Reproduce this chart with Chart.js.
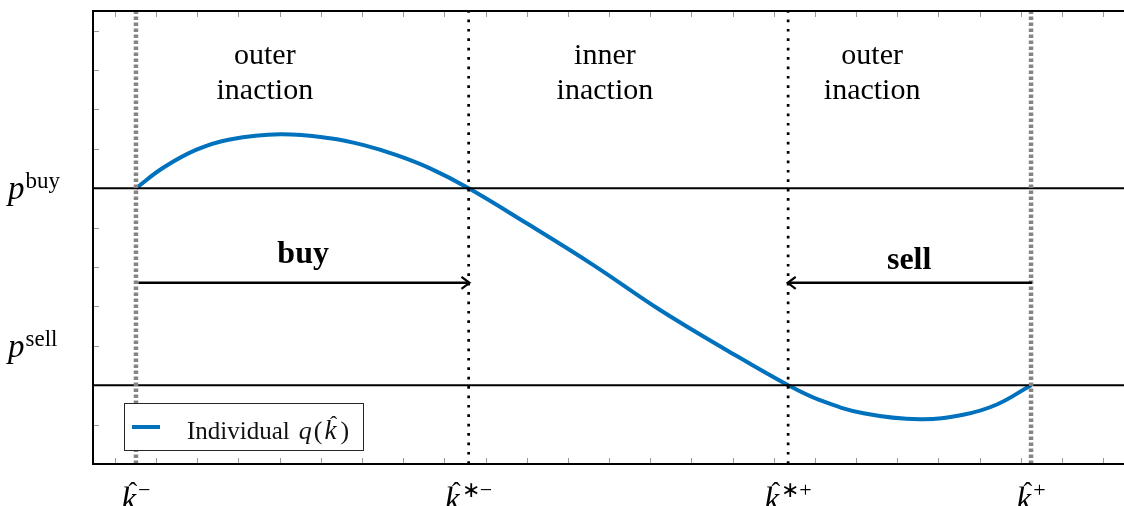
<!DOCTYPE html>
<html><head><meta charset="utf-8">
<script src="https://cdn.jsdelivr.net/npm/chart.js@4.4.1/dist/chart.umd.min.js"></script>
<style>html,body{margin:0;padding:0;background:#fff;overflow:hidden}</style>
</head><body>
<canvas id="c" width="1124" height="506"></canvas>
<script>
// ---------- data ----------
const curveK = [0.51, 1.17, 1.98, 2.79, 4.01, 5.22, 6.02, 6.84, 7.64, 8.59, 10.0, 11.62, 13.24, 14.86, 16.35, 17.12, 18.18, 19.55, 20.60, 21.42, 22.25];
const curveQ = [7.0, 7.52, 7.98, 8.24, 8.37, 8.27, 8.10, 7.84, 7.51, 7.0, 6.11, 5.05, 3.91, 2.89, 2.0, 1.62, 1.29, 1.135, 1.25, 1.51, 2.0];
const kValues = [0.51, 8.59, 16.35, 22.25];          // k^-, k^*-, k^*+, k^+
const kSups = ['\u2212', '\u2217\u2212', '\u2217+', '+'];
const pBuy = 7, pSell = 2;
const priceLabelValues = [7, 3];
const priceLabelSups = ['buy', 'sell'];
const regionLines = [['outer', 'inaction'], ['inner', 'inaction'], ['outer', 'inaction']];
const regionX = [3.64, 11.9, 18.39];
const regionY = 10.15;
const arrowY = 4.6;
const buyArrow = [0.57, 8.61];
const sellArrow = [22.27, 16.34];
const buyText = {label: 'buy', x: 4.57, y: 5.10};
const sellText = {label: 'sell', x: 19.29, y: 4.96};
const xTickValues = [0,1,2,3,4,5,6,7,8,9,10,11,12,13,14,15,16,17,18,19,20,21,22,23,24];
const yTickValues = [1,2,3,4,5,6,7,8,9,10,11];
const xMin = -0.534, xMax = 24.508, yMin = 0, yMax = 11.5;
const legendLabel = 'Individual';

const SERIF = '"Liberation Serif", "Times New Roman", serif';
const BLUE = '#0072BD';

function vline(k, color, width, dash, order) {
  return {data: [{x: k, y: yMin}, {x: k, y: yMax}], borderColor: color, borderWidth: width,
          borderDash: dash, borderCapStyle: 'butt', pointRadius: 0, order: order};
}
function hline(p, order) {
  return {data: [{x: xMin, y: p}, {x: xMax, y: p}], borderColor: '#000', borderWidth: 2,
          pointRadius: 0, order: order};
}

const datasets = [
  vline(kValues[0], '#858585', 4.5, [3.6, 2.4], 0),
  vline(kValues[3], '#858585', 4.5, [3.6, 2.4], 0),
  vline(kValues[1], '#000', 2.7, [2.7, 6.7], 1),
  vline(kValues[2], '#000', 2.7, [2.7, 6.7], 1),
  hline(pBuy, 2),
  hline(pSell, 2),
  {label: 'Individual q(k)', data: curveK.map((k, i) => ({x: k, y: curveQ[i]})),
   borderColor: BLUE, borderWidth: 4, pointRadius: 0, tension: 0.4, order: 5}
];

function drawHatK(ctx, x, baseline, size) {
  // draws italic k with a hat, returns width
  ctx.font = `italic ${size}px ${SERIF}`;
  ctx.textAlign = 'left';
  ctx.fillText('k', x, baseline);
  const w = ctx.measureText('k').width;
  ctx.font = `${Math.round(size * 0.8)}px ${SERIF}`;
  ctx.textAlign = 'center';
  ctx.fillText('\u02C6', x + w / 2 + size * 0.12, baseline - size * 0.3);
  ctx.textAlign = 'left';
  return w;
}

const decor = {
  id: 'decor',
  beforeDatasetsDraw(chart) {
    const {ctx, chartArea: a, scales: {x, y}} = chart;
    ctx.save();
    ctx.strokeStyle = '#9a9a9a'; ctx.lineWidth = 1;
    ctx.beginPath();
    for (const t of xTickValues) {
      const px = Math.round(x.getPixelForValue(t)) + 0.5;
      ctx.moveTo(px, a.bottom); ctx.lineTo(px, a.bottom - 6);
      ctx.moveTo(px, a.top); ctx.lineTo(px, a.top + 6);
    }
    for (const t of yTickValues) {
      const py = Math.round(y.getPixelForValue(t)) + 0.5;
      ctx.moveTo(a.left, py); ctx.lineTo(a.left + 6, py);
    }
    ctx.stroke();
    ctx.restore();
  },
  afterDatasetsDraw(chart) {
    const {ctx, chartArea: a, scales: {x, y}} = chart;
    ctx.save();
    // axes box (left, top, bottom)
    ctx.strokeStyle = '#000'; ctx.lineWidth = 2;
    ctx.beginPath();
    ctx.moveTo(a.right + 2, a.top); ctx.lineTo(a.left, a.top);
    ctx.lineTo(a.left, a.bottom); ctx.lineTo(a.right + 2, a.bottom);
    ctx.stroke();

    // arrows
    function arrow(from, to) {
      const x0 = x.getPixelForValue(from), x1 = x.getPixelForValue(to), py = y.getPixelForValue(arrowY);
      const dir = Math.sign(x1 - x0);
      ctx.strokeStyle = '#000'; ctx.lineWidth = 2.6; ctx.lineCap = 'butt';
      ctx.beginPath(); ctx.moveTo(x0, py); ctx.lineTo(x1 - dir * 1, py); ctx.stroke();
      ctx.lineWidth = 2.2; ctx.lineJoin = 'miter';
      ctx.beginPath();
      ctx.moveTo(x1 - dir * 8, py - 6); ctx.lineTo(x1, py); ctx.lineTo(x1 - dir * 8, py + 6);
      ctx.stroke();
    }
    arrow(buyArrow[0], buyArrow[1]);
    arrow(sellArrow[0], sellArrow[1]);

    ctx.fillStyle = '#000';
    ctx.font = `bold 32px ${SERIF}`; ctx.textAlign = 'center'; ctx.textBaseline = 'alphabetic';
    ctx.fillText(buyText.label, x.getPixelForValue(buyText.x), y.getPixelForValue(buyText.y));
    ctx.fillText(sellText.label, x.getPixelForValue(sellText.x), y.getPixelForValue(sellText.y));

    // region labels
    ctx.font = `30px ${SERIF}`;
    regionLines.forEach((lines, i) => {
      const px = x.getPixelForValue(regionX[i]);
      const py = y.getPixelForValue(regionY);
      lines.forEach((t, j) => ctx.fillText(t, px, py + j * 35));
    });

    // price labels on the left
    ctx.textAlign = 'left';
    priceLabelValues.forEach((v, i) => {
      const py = y.getPixelForValue(v) + 11;
      ctx.font = `italic 33px ${SERIF}`;
      ctx.fillText('p', 8, py);
      const wp = ctx.measureText('p').width;
      ctx.font = `23px ${SERIF}`;
      ctx.fillText(priceLabelSups[i], 8 + wp + 1, py - 11);
    });

    // k-hat labels at the bottom
    kValues.forEach((k, i) => {
      const size = 33, supSize = 22;
      ctx.font = `italic ${size}px ${SERIF}`;
      const wk = ctx.measureText('k').width;
      ctx.font = `${supSize}px ${SERIF}`;
      const ws = ctx.measureText(kSups[i]).width;
      const total = wk + 2 + ws;
      const left = x.getPixelForValue(k) - total / 2;
      const base = a.bottom + 46;
      drawHatK(ctx, left, base, size);
      ctx.font = `${supSize}px ${SERIF}`;
      ctx.fillText(kSups[i], left + wk + 2, base - 13);
    });

    // legend (southwest, inside axes)
    const lx = a.left + 31, ly = a.bottom - 61, lw = 239, lh = 47;
    ctx.fillStyle = '#fff';
    ctx.fillRect(lx, ly, lw, lh);
    ctx.strokeStyle = '#262626'; ctx.lineWidth = 1;
    ctx.strokeRect(lx + 0.5, ly + 0.5, lw, lh);
    ctx.strokeStyle = chart.data.datasets[6].borderColor; ctx.lineWidth = 4;
    ctx.beginPath(); ctx.moveTo(lx + 8, ly + 24); ctx.lineTo(lx + 36, ly + 24); ctx.stroke();
    ctx.fillStyle = '#111';
    let tx = lx + 63; const tb = ly + 36;
    ctx.font = `25px ${SERIF}`; ctx.fillText(legendLabel, tx, tb);
    tx += ctx.measureText(legendLabel).width + 9;
    ctx.font = `italic 26px ${SERIF}`; ctx.fillText('q', tx, tb); tx += ctx.measureText('q').width + 2;
    ctx.font = `26px ${SERIF}`; ctx.fillText('(', tx, tb); tx += ctx.measureText('(').width + 2;
    tx += drawHatK(ctx, tx, tb, 27) + 4;
    ctx.font = `26px ${SERIF}`; ctx.fillText(')', tx, tb);
    ctx.restore();
  }
};

new Chart(document.getElementById('c'), {
  type: 'line',
  data: {datasets},
  options: {
    responsive: false, animation: false, devicePixelRatio: 1,
    layout: {padding: {left: 93, top: 11, right: 0, bottom: 42}},
    plugins: {legend: {display: false}, tooltip: {enabled: false}},
    scales: {
      x: {type: 'linear', min: xMin, max: xMax, display: false},
      y: {type: 'linear', min: yMin, max: yMax, display: false}
    }
  },
  plugins: [decor]
});
</script>
</body></html>
